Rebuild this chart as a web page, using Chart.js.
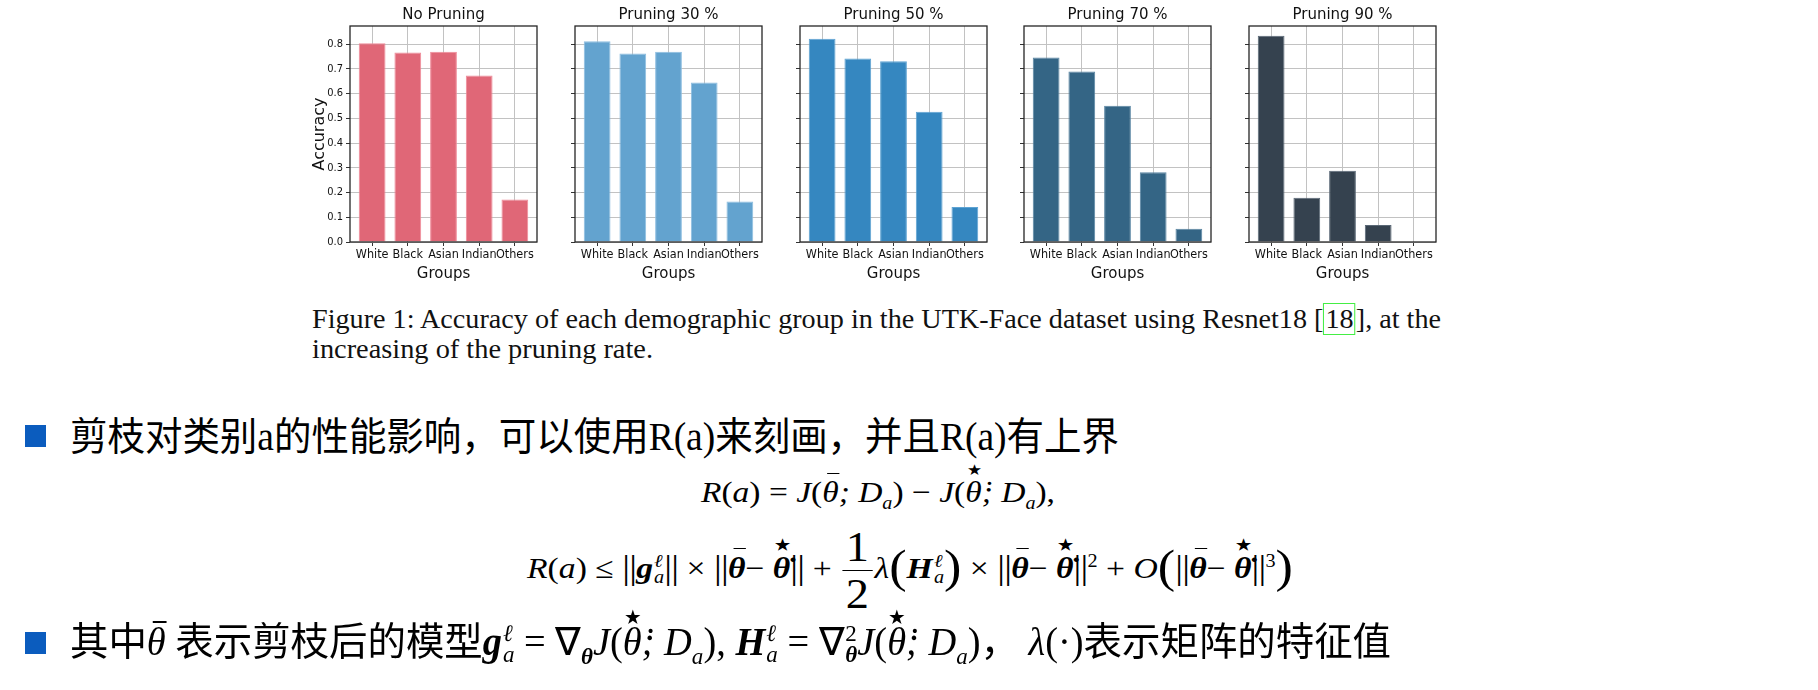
<!DOCTYPE html>
<html><head><meta charset="utf-8">
<script src="https://cdn.jsdelivr.net/npm/chart.js@4.4.1/dist/chart.umd.min.js"></script>
<style>
html,body{margin:0;padding:0;background:#fff;width:1818px;height:690px;overflow:hidden;position:relative}
canvas.cv{position:absolute;top:0}
.txt{position:absolute;white-space:nowrap;transform-origin:0 50%;display:inline-block}
.cap{font-family:"Liberation Serif",serif;font-size:27px;line-height:30px;color:#111}
.ref{border:1.5px solid #44ee44;padding:0 1px}
.zh{font-family:"Liberation Serif","Noto Sans CJK SC",sans-serif;font-size:39px;line-height:44px;color:#000}
.bul{position:absolute;width:21px;height:22px;background:#0b5cbe}
.m{font-family:"Liberation Serif",serif;font-style:italic}
.u{font-style:normal}
.acc{position:relative;display:inline-block}
.st{position:absolute;left:52%;transform:translateX(-50%);top:-0.62em;font-size:0.5em;font-style:normal;line-height:1}
.bar{position:relative;display:inline-block}
.bar::after{content:"";position:absolute;left:30%;right:-2%;top:0.02em;border-top:0.06em solid currentColor}
.ss{display:inline-flex;flex-direction:column;font-size:0.6em;line-height:0.9;vertical-align:0.62em;margin-left:1px}
.frac{display:inline-flex;flex-direction:column;vertical-align:middle;text-align:center;font-style:normal;line-height:1.12;margin:0 2px;font-size:1.38em}
.frac .n{border-bottom:1.5px solid #000;padding:0 3px}
.big{font-size:1.55em;font-style:normal;vertical-align:-0.1em;line-height:0}
.nm{font-style:normal;font-size:1.15em;letter-spacing:-0.02em;vertical-align:-0.05em;line-height:0}
.f{font-size:30px;line-height:40px;color:#000}
sub,sup{font-size:0.6em;line-height:0}
</style></head>
<body>
<canvas class="cv" id="c0"></canvas>
<canvas class="cv" id="c1"></canvas>
<canvas class="cv" id="c2"></canvas>
<canvas class="cv" id="c3"></canvas>
<canvas class="cv" id="c4"></canvas>

<div class="txt cap" id="cap1" style="left:312px;top:304px">Figure 1: Accuracy of each demographic group in the UTK-Face dataset using Resnet18 [<span class="ref">18</span>], at the</div>
<div class="txt cap" id="cap2" style="left:312px;top:334px">increasing of the pruning rate.</div>

<div class="bul" style="left:25px;top:425px"></div>
<div class="txt zh" id="z1" style="left:70px;top:415px">剪枝对类别a的性能影响，可以使用R(a)来刻画，并且R(a)有上界</div>

<div class="txt m f" id="f1" style="left:701px;top:472px">R<span class="u">(</span>a<span class="u">) = </span>J<span class="u">(</span><span class="bar">θ</span>; D<sub>a</sub><span class="u">) − </span>J<span class="u">(</span><span class="acc">θ̇<span class="st">★</span></span>; D<sub>a</sub><span class="u">),</span></div>

<div class="txt m f" id="f2" style="left:527px;top:524px">R<span class="u">(</span>a<span class="u">) ≤ </span><span class="nm">||</span><b>g</b><span class="ss"><span>ℓ</span><span>a</span></span><span class="nm">||</span><span class="u"> × </span><span class="nm">||</span><b class="bar">θ</b><span class="u">− </span><b class="acc">θ̇<span class="st">★</span></b><span class="nm">||</span><span class="u"> + </span><span class="frac"><span class="n">1</span><span>2</span></span>λ<span class="big">(</span><b>H</b><span class="ss"><span>ℓ</span><span>a</span></span><span class="big">)</span><span class="u"> × </span><span class="nm">||</span><b class="bar">θ</b><span class="u">− </span><b class="acc">θ̇<span class="st">★</span></b><span class="nm">||</span><sup class="u">2</sup><span class="u"> + </span>O<span class="big">(</span><span class="nm">||</span><b class="bar">θ</b><span class="u">− </span><b class="acc">θ̇<span class="st">★</span></b><span class="nm">||</span><sup class="u">3</sup><span class="big">)</span></div>

<div class="bul" style="left:25px;top:632px"></div>
<div class="txt zh" id="z2" style="left:70px;top:620px">其中<span class="m bar">θ</span> 表示剪枝后的模型<span class="m"><b>g</b><span class="ss"><span>ℓ</span><span>a</span></span><span class="u"> = ∇</span><sub><b>θ</b></sub>J<span class="u">(</span><span class="acc">θ̇<span class="st">★</span></span>; D<sub>a</sub><span class="u">)</span></span>, <span class="m"><b>H</b><span class="ss"><span>ℓ</span><span>a</span></span><span class="u"> = ∇</span><span class="ss"><span class="u">2</span><b>θ</b></span>J<span class="u">(</span><span class="acc">θ̇<span class="st">★</span></span>; D<sub>a</sub><span class="u">)</span></span>， <span class="m">λ</span>(·)表示矩阵的特征值</div>

<script>
// ---- data ----
const categories = ['White', 'Black', 'Asian', 'Indian', 'Others'];
const panelTitles = ['No Pruning', 'Pruning 30 %', 'Pruning 50 %', 'Pruning 70 %', 'Pruning 90 %'];
const noPruning = [0.803, 0.766, 0.769, 0.673, 0.172];
const pruning30 = [0.811, 0.762, 0.769, 0.645, 0.164];
const pruning50 = [0.821, 0.742, 0.731, 0.526, 0.141];
const pruning70 = [0.746, 0.689, 0.551, 0.282, 0.054];
const pruning90 = [0.834, 0.179, 0.288, 0.069, 0.0];
const yTickStep = 0.1;
const yMax = 0.873;

const seriesList = [noPruning, pruning30, pruning50, pruning70, pruning90];
const fills = ['#e06777', '#63a3cf', '#3587c0', '#346585', '#35424f'];
const edges = ['#f08a98', '#8cbde0', '#5ea3d3', '#5a86a3', '#5a6876'];
const plotLefts = [350, 575, 800, 1024, 1249];
const plotW = 187;
const H = 290;

const condensed = '"DejaVu Sans Condensed", "DejaVu Sans", sans-serif';
const sans = '"DejaVu Sans", sans-serif';

const frame = {
  id: 'frame',
  afterDatasetsDraw(chart) {
    const {ctx, chartArea: a} = chart;
    ctx.save();
    ctx.strokeStyle = '#262626';
    ctx.lineWidth = 1.3;
    ctx.strokeRect(a.left, a.top, a.right - a.left, a.bottom - a.top);
    ctx.restore();
  }
};
const panelTitle = {
  id: 'panelTitle',
  afterDraw(chart, args, opts) {
    const {ctx, chartArea: a} = chart;
    ctx.save();
    ctx.font = opts.font;
    ctx.fillStyle = '#111';
    ctx.textAlign = 'center';
    ctx.textBaseline = 'middle';
    ctx.fillText(opts.text, (a.left + a.right) / 2, opts.y);
    ctx.restore();
  }
};

seriesList.forEach((vals, i) => {
  const first = i === 0;
  const yW = first ? 50 : 10;
  const padR = 14;
  const cv = document.getElementById('c' + i);
  cv.width = yW + plotW + padR;
  cv.height = H;
  cv.style.left = (plotLefts[i] - yW) + 'px';
  new Chart(cv, {
    type: 'bar',
    data: {
      datasets: [{
        data: vals.map((v, k) => ({x: k, y: v})),
        backgroundColor: fills[i],
        borderColor: edges[i],
        borderWidth: 1,
        barPercentage: 0.75,
        categoryPercentage: 1
      }]
    },
    options: {
      responsive: false,
      animation: false,
      devicePixelRatio: 1,
      layout: {padding: {left: 0, right: padR, top: 26, bottom: 0}},
      plugins: {
        legend: {display: false},
        tooltip: {enabled: false},
        title: {display: false},
        panelTitle: {text: panelTitles[i], font: '15px ' + sans, y: 15}
      },
      scales: {
        x: {
          type: 'linear', min: -0.62, max: 4.62, offset: false,
          ticks: {
            stepSize: 1, includeBounds: false, autoSkip: false, maxRotation: 0, minRotation: 0,
            callback: v => categories[v] ?? '', font: {family: condensed, size: 12.5}, color: '#111', padding: 1
          },
          grid: {color: '#c2c2c2', lineWidth: 1, tickLength: 4, tickColor: '#333', offset: false},
          border: {display: false},
          title: {display: true, text: 'Groups', color: '#111',
                  font: {family: sans, size: 15}, padding: {top: 0, bottom: 7}},
          afterFit: s => { s.height = H - 242; }
        },
        y: {
          min: 0, max: yMax,
          ticks: {
            stepSize: yTickStep, includeBounds: false, display: first,
            callback: v => v.toFixed(1), font: {family: condensed, size: 11}, color: '#111', padding: 3
          },
          grid: {color: '#c2c2c2', lineWidth: 1, tickLength: 4, tickColor: '#333'},
          border: {display: false},
          title: {display: first, text: 'Accuracy', color: '#111',
                  font: {family: sans, size: 16}, padding: {top: 10.4, bottom: 0}},
          afterFit: s => { s.width = yW; }
        }
      }
    },
    plugins: [frame, panelTitle]
  });
});

// fit text blocks horizontally to the reference widths
const targets = {cap1: 1129, cap2: 341, z1: 1049, z2: 1321, f1: 354, f2: 766};
function fit() {
  Object.keys(targets).forEach(id => {
    const el = document.getElementById(id);
    el.style.transform = 'none';
    const w = el.getBoundingClientRect().width;
    el.style.transform = 'scaleX(' + (targets[id] / w) + ')';
  });
}
fit();
if (document.fonts && document.fonts.ready) document.fonts.ready.then(fit);
</script>
</body></html>
